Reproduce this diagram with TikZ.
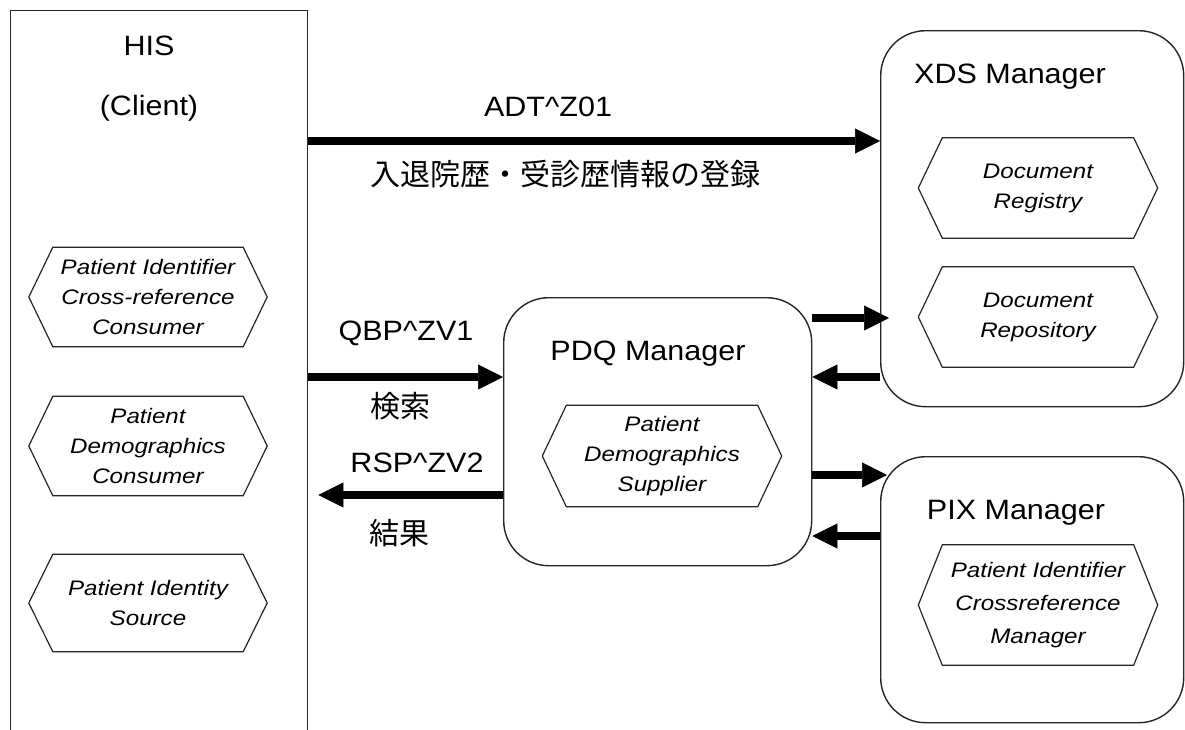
\documentclass[tikz,border=0pt]{standalone}
\usepackage{fontspec}
\setmainfont{Liberation Sans}
\newfontfamily\lblfont[FakeStretch=1.09]{Liberation Sans}
\newfontfamily\itlfont[FakeStretch=1.15]{Liberation Sans}
\newfontfamily\jpfont{Noto Sans CJK JP}
\usetikzlibrary{arrows.meta,calc}
\newcommand\hexfr[2][24]{\draw[hexline] (#2.west) -- ([xshift=#1pt]#2.north west) -- ([xshift=-#1pt]#2.north east) -- (#2.east) -- ([xshift=-#1pt]#2.south east) -- ([xshift=#1pt]#2.south west) -- cycle;}
\begin{document}
\begin{tikzpicture}[x=1pt,y=-1pt,
  boxline/.style={draw=black!85, line width=1.4pt},
  mgrbox/.style={boxline, rounded corners=45pt, anchor=north west, inner sep=0pt},
  hexline/.style={draw=black!85, line width=1.2pt},
  lab/.style={font={\lblfont\fontsize{28}{32}\selectfont}, inner sep=0pt},
  jlab/.style={font={\jpfont\fontsize{30}{32}\selectfont}, inner sep=0pt},
  hext/.style={font={\itlfont\itshape\fontsize{21}{30}\selectfont}, align=center, minimum width=239pt, minimum height=100pt, inner sep=0pt},
  arr/.style={line width=8pt, -{Triangle[length=25pt,width=25pt,line width=0.5pt]}}
]
\useasboundingbox (0,0) rectangle (1185,729);
\clip (0,0) rectangle (1185,729);
\fill[white] (0,0) rectangle (1185,729);

% HIS
\node[boxline, anchor=north west, minimum width=297pt, minimum height=780pt, inner sep=0pt] (his) at (10,10) {};
\node[lab] (histitle) at (149,46) {HIS};
\node[lab] (hissub) at (149,108) {(Client)};
\node[hext, minimum width=238pt, minimum height=99pt] (hA) at (148,297) {Patient Identifier\\Cross-reference\\Consumer};
\hexfr{hA}
\node[hext, minimum width=238pt, minimum height=99pt] (hB) at (148,446) {Patient\\Demographics\\Consumer};
\hexfr{hB}
\node[hext, minimum width=238pt, minimum height=97pt] (hC) at (148,603) {Patient Identity\\Source};
\hexfr{hC}

% XDS
\node[mgrbox, minimum width=303pt, minimum height=376pt] (xds) at (880,30) {};
\node[lab] (xdstitle) at (1010,77) {XDS Manager};
\node[hext] (docreg) at (1038,188) {Document\\Registry};
\hexfr{docreg}
\node[hext] (docrep) at (1038,317) {Document\\Repository};
\hexfr{docrep}

% PDQ
\node[mgrbox, minimum width=308pt, minimum height=268pt] (pdq) at (503,297) {};
\node[lab] (pdqtitle) at (648,354) {PDQ Manager};
\node[hext, minimum height=101pt] (pdqh) at (662,456) {Patient\\Demographics\\Supplier};
\hexfr{pdqh}

% PIX
\node[mgrbox, minimum width=303pt, minimum height=266pt] (pix) at (880,456) {};
\node[lab] (pixtitle) at (1016,513) {PIX Manager};
\node[hext, minimum height=120pt, font={\itlfont\itshape\fontsize{21}{33}\selectfont}] (pixh) at (1038,605) {Patient Identifier\\Crossreference\\Manager};
\hexfr{pixh}

% rows
\coordinate (yadt) at (0,141);
\coordinate (yqbp) at (0,377);
\coordinate (yrsp) at (0,495);
\coordinate (yx1) at (0,318);
\coordinate (yx2) at (0,377);
\coordinate (yp1) at (0,475);
\coordinate (yp2) at (0,536);

% arrows
\draw[arr] (his.east |- yadt) -- (xds.west |- yadt);
\draw[arr] (his.east |- yqbp) -- (pdq.west |- yqbp);
\draw[arr] (pdq.west |- yrsp) -- ($(his.east |- yrsp)+(10,0)$);
\draw[arr] (pdq.east |- yx1) -- ($(xds.west |- yx1)+(9,0)$);
\draw[arr] (xds.west |- yx2) -- (pdq.east |- yx2);
\draw[arr] (pdq.east |- yp1) -- ($(pix.west |- yp1)+(7,0)$);
\draw[arr] (pix.west |- yp2) -- (pdq.east |- yp2);

% labels
\node[lab] (adt) at (548,107) {ADT\^{}Z01};
\node[jlab] (adtj) at (565,174) {入退院歴・受診歴情報の登録};
\node[lab] (qbp) at (406,333) {QBP\^{}ZV1};
\node[jlab] (qbpj) at (400,406) {検索};
\node[lab] (rsp) at (417,463) {RSP\^{}ZV2};
\node[jlab] (rspj) at (399,533) {結果};
\end{tikzpicture}
\end{document}
